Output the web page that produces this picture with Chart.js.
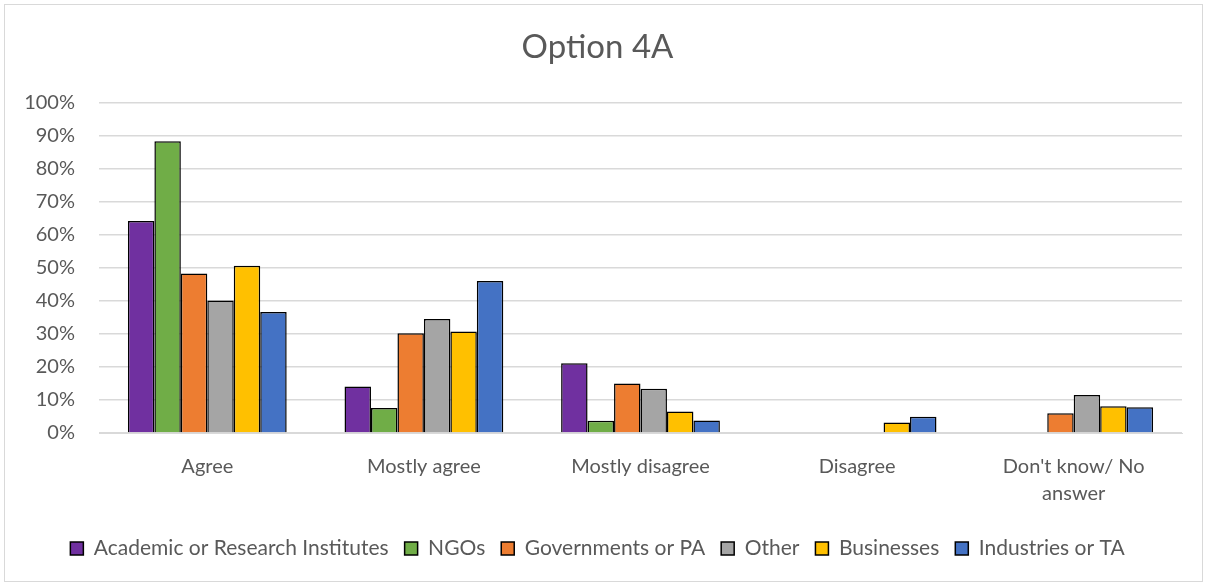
<!DOCTYPE html>
<html>
<head>
<meta charset="utf-8">
<script src="https://cdn.jsdelivr.net/npm/chart.js@4/dist/chart.umd.min.js"></script>
<style>
  html, body { margin: 0; padding: 0; background: #fff; }
  #wrap { position: absolute; left: 4px; top: 4px; width: 1199px; height: 578px; border: 1px solid #d9d9d9; box-sizing: border-box; }
  canvas { display: block; }
</style>
</head>
<body>
<div id="wrap"><canvas id="c"></canvas></div>
<script>
const categories = ["Agree", "Mostly agree", "Mostly disagree", "Disagree", ["Don't know/ No", "answer"]];
const seriesNames = ["Academic or Research Institutes", "NGOs", "Governments or PA", "Other", "Businesses", "Industries or TA"];
const academic   = [64.2, 14.1, 21.1, 0, 0];
const ngos       = [88.3, 7.6, 3.7, 0, 0];
const governments = [48.3, 30.2, 15.0, 0, 6.0];
const other      = [40.1, 34.5, 13.4, 0, 11.5];
const businesses = [50.6, 30.7, 6.5, 3.2, 8.1];
const industries = [36.6, 46.0, 3.8, 4.9, 7.8];
const colors = ["#7030a0", "#70ad47", "#ed7d31", "#a5a5a5", "#ffc000", "#4472c4"];
const yTicks = [0, 10, 20, 30, 40, 50, 60, 70, 80, 90, 100];

const values = [academic, ngos, governments, other, businesses, industries];
const FONT = "Lato, 'Open Sans', sans-serif";

new Chart(document.getElementById("c"), {
  type: "bar",
  data: {
    labels: categories,
    datasets: seriesNames.map((name, i) => ({
      label: name,
      data: values[i],
      backgroundColor: colors[i],
      borderColor: "#000",
      borderWidth: 1.5,
      borderSkipped: "bottom",
      barPercentage: 1,
      categoryPercentage: 0.733
    }))
  },
  options: {
    responsive: true,
    maintainAspectRatio: false,
    animation: false,
    layout: { padding: { left: 8, right: 20, top: 10, bottom: 12 } },
    plugins: {
      title: {
        display: true,
        text: "Option 4A",
        color: "#595959",
        font: { family: FONT, size: 33, weight: "normal" },
        padding: { top: 13, bottom: 35 }
      },
      legend: {
        position: "bottom",
        labels: {
          color: "#595959",
          font: { family: FONT, size: 21 },
          boxWidth: 13,
          boxHeight: 13,
          padding: 16,
          generateLabels: (chart) => chart.data.datasets.map((ds, i) => ({
            text: ds.label,
            fillStyle: ds.backgroundColor,
            strokeStyle: "#000",
            lineWidth: 1.5,
            datasetIndex: i,
            fontColor: "#595959"
          }))
        }
      },
      tooltip: { enabled: false }
    },
    scales: {
      x: {
        afterFit: (axis) => { axis.height = 89; },
        grid: { display: false, drawTicks: false },
        border: { display: true, color: "#d9d9d9", width: 1 },
        ticks: { color: "#595959", font: { family: FONT, size: 20, lineHeight: 1.35 }, padding: 20 }
      },
      y: {
        min: 0,
        max: 100,
        afterBuildTicks: (axis) => { axis.ticks = yTicks.map(v => ({ value: v })); },
        afterFit: (axis) => { axis.width = 86; },
        grid: { color: "#d9d9d9", lineWidth: 1.5, drawTicks: false },
        border: { display: false },
        ticks: {
          color: "#595959",
          font: { family: FONT, size: 20 },
          padding: 24,
          callback: (v) => v + "%"
        }
      }
    }
  }
});
</script>
</body>
</html>
